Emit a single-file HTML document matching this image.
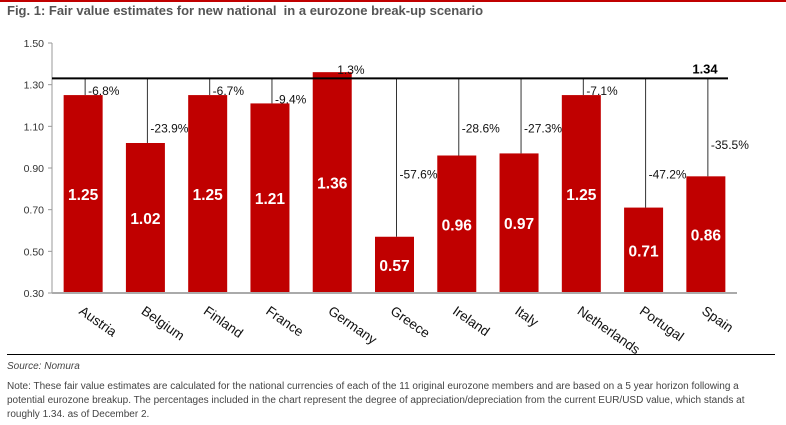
<!DOCTYPE html>
<html><head><meta charset="utf-8">
<style>
body{margin:0;background:#fff;width:786px;height:425px;overflow:hidden;font-family:"Liberation Sans",Arial,sans-serif;position:relative}
#topline{position:absolute;left:0;top:0;width:786px;height:2px;background:#c00000}
#title{position:absolute;left:7px;top:3px;font-size:13px;font-weight:bold;color:#555}
#sep{position:absolute;left:7px;top:354px;width:768px;height:1px;background:#000}
#source{position:absolute;left:7px;top:361px;font-size:10px;font-style:italic;color:#444}
#note{position:absolute;left:7px;top:380px;width:765px;font-size:10px;line-height:14px;color:#444}
svg{position:absolute;left:0;top:0}
</style></head><body>
<div id="topline"></div>
<div id="title">Fig. 1: Fair value estimates for new national&nbsp; in a eurozone break-up scenario</div>
<svg id="chart" width="786" height="354"></svg>
<div id="sep"></div>
<div id="source">Source: Nomura</div>
<div id="note">Note: These fair value estimates are calculated for the national currencies of each of the 11 original eurozone members and are based on a 5 year horizon following a<br>potential eurozone breakup. The percentages included in the chart represent the degree of appreciation/depreciation from the current EUR/USD value, which stands at<br>roughly 1.34. as of December 2.</div>
<script>
const categories=["Austria","Belgium","Finland","France","Germany","Greece","Ireland","Italy","Netherlands","Portugal","Spain"];
const values=[1.25,1.02,1.25,1.21,1.36,0.57,0.96,0.97,1.25,0.71,0.86];
const pctLabels=["-6.8%","-23.9%","-6.7%","-9.4%","1.3%","-57.6%","-28.6%","-27.3%","-7.1%","-47.2%","-35.5%"];
const pctLabelValues=[1.27,1.09,1.27,1.23,1.37,0.87,1.09,1.09,1.27,0.87,1.01];
const yTicks=[0.30,0.50,0.70,0.90,1.10,1.30,1.50];
const refValue=1.34;
const refLabel="1.34";

const svg=document.getElementById('chart');
const NS='http://www.w3.org/2000/svg';
const x0=52,x1=737,yMin=0.30,yMax=1.50,py0=293,py1=43;
const band=(x1-x0)/categories.length;
const y=v=>py0-(v-yMin)/(yMax-yMin)*(py0-py1);
const xc=i=>x0+band*(i+0.5);
function mk(tag,attrs,txt){const e=document.createElementNS(NS,tag);for(const k in attrs)e.setAttribute(k,attrs[k]);if(txt!==undefined)e.textContent=txt;svg.appendChild(e);return e;}

let e=mk('line',{x1:x0,y1:py1,x2:x0,y2:py0,stroke:'#999'});


yTicks.forEach(t=>{
  let tk=mk('line',{x1:x0-4,y1:y(t),x2:x0,y2:y(t),stroke:'#999'});
  
  
  let tl=mk('text',{x:x0-8,y:y(t)+4,'text-anchor':'end','font-size':'10.5',fill:'#333'},t.toFixed(2));
  
  
});
const refY=y(refValue)+2;
categories.forEach((c,i)=>{
  const bw=39,top=y(values[i]);
  const lx=xc(i)+2;
  if(values[i]<refValue){
    let ln=mk('line',{x1:lx,y1:refY,x2:lx,y2:top,stroke:'#333','stroke-width':1});
    
    
  }
  let r=mk('rect',{x:xc(i)-bw/2,y:top,width:bw,height:py0-top,fill:'#c00000'});
  
  
  let vl=mk('text',{x:xc(i),y:(top+py0)/2+6,'text-anchor':'middle','font-size':'15.5','font-weight':'bold',fill:'#fff'},values[i].toFixed(2));
  
  
  let pl=mk('text',{x:lx+3,y:y(pctLabelValues[i])+4,'font-size':'12',fill:'#111'},pctLabels[i]);
  
  
  const tx=xc(i)-5, ty=py0+20;
  let xl=mk('text',{x:tx,y:ty,'font-size':'13.5',fill:'#111',transform:`rotate(35 ${tx} ${ty})`},c);
  
  
});
let ax=mk('line',{x1:x0,y1:py0,x2:x1,y2:py0,stroke:'#aaa','stroke-width':2});


let rl=mk('line',{x1:x0,y1:refY,x2:728,y2:refY,stroke:'#000','stroke-width':2});


let rt=mk('text',{x:705,y:refY-5,'text-anchor':'middle','font-size':'13','font-weight':'bold',fill:'#000'},refLabel);


</script>
</body></html>
